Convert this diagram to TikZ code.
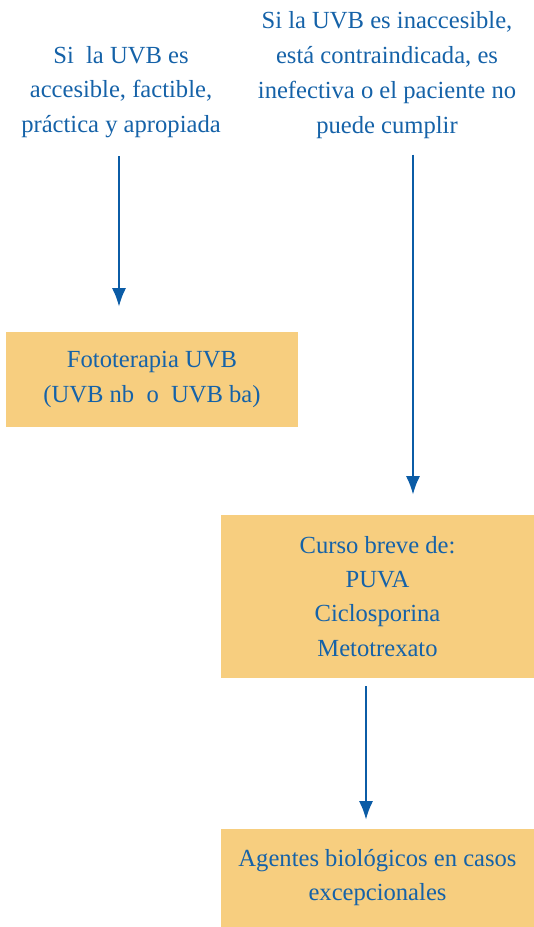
\documentclass[tikz,border=0pt]{standalone}
\usepackage{fontspec}
\setmainfont{Liberation Serif}
\usetikzlibrary{arrows.meta}
\definecolor{textblue}{HTML}{1562A8}
\definecolor{arrowblue}{HTML}{0B5CA6}
\definecolor{boxfill}{HTML}{F7CE7F}
\tikzset{
  note/.style={align=center,text=textblue,font=\fontsize{14}{19.8}\selectfont,inner sep=0pt},
  box/.style={note,fill=boxfill,minimum width=6.26cm,font=\fontsize{14}{19.4}\selectfont},
  flow/.style={draw=arrowblue,line width=1.2pt,-{Latex[length=10.5pt,width=8pt]}}
}
\begin{document}
\begin{tikzpicture}[x=0.02cm,y=-0.02cm]
\useasboundingbox (0,0) rectangle (534,927);
\node[note] (cond1) at (121,92){Si\ \ la UVB es\\accesible, factible,\\práctica y apropiada};
\node[note] (cond2) at (387,75){Si la UVB es inaccesible,\\está contraindicada, es\\inefectiva o el paciente no\\puede cumplir};
\node[box,minimum width=5.84cm,minimum height=1.9cm] (uvb) at (152,379.5){Fototerapia UVB\\(UVB nb\ \ o\ \ UVB ba)};
\node[box,minimum height=3.26cm] (curso) at (377.5,596.5){Curso breve de:\\PUVA\\Ciclosporina\\Metotrexato};
\node[box,minimum height=1.96cm] (bio) at (377.5,878){Agentes biológicos en casos\\excepcionales};
\draw[flow,shorten <=0.36cm,shorten >=0.5cm] ([xshift=-0.04cm]cond1.south) -- ([xshift=-0.04cm]cond1.south |- uvb.north);
\draw[flow,shorten <=0.32cm,shorten >=0.4cm] ([xshift=0.52cm]cond2.south) -- ([xshift=0.52cm]cond2.south |- curso.north);
\draw[flow,shorten <=0.16cm,shorten >=0.18cm] ([xshift=-0.23cm]curso.south) -- ([xshift=-0.23cm]curso.south |- bio.north);
\end{tikzpicture}
\end{document}
